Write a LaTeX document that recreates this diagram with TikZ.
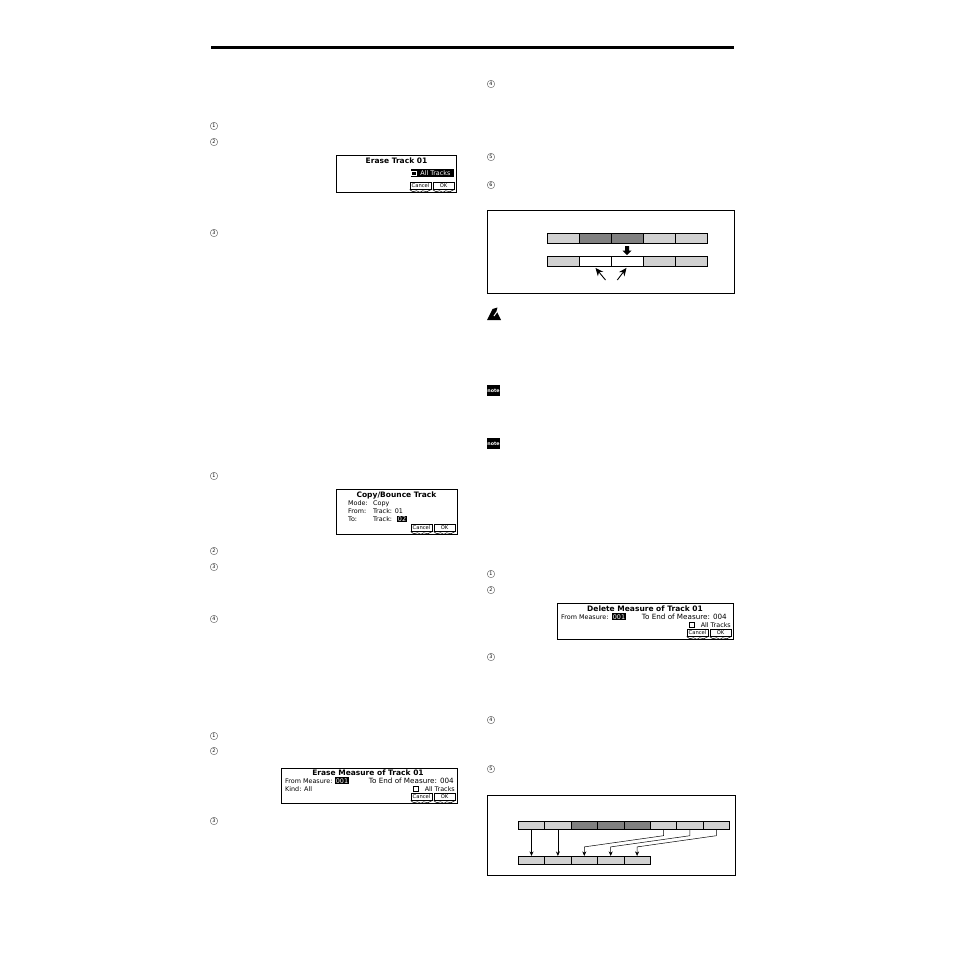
\documentclass[tikz,border=0pt]{standalone}
\usepackage{fontspec}
\setmainfont{DejaVu Sans}
\usetikzlibrary{calc,arrows.meta}

\newcommand{\softkeys}[1]{
	\foreach \kx/\kw/\klabel/\kname in {-36/21/Cancel/cancel,-13/21/OK/ok} {
		\node[softkey, minimum width=\kw pt] (#1\kname) at ($(#1.south east)+(\kx,-6.5)$) {\klabel};
		\draw[line width=0.5pt] (#1\kname.south west) -- ++(3,2.2) -- ++(4,-1) -- ++(3,1.6) -- ++(3,-1.6) -- ++(4,1) -- (#1\kname.south east);
	}
}

\begin{document}
\begin{tikzpicture}[x=1pt,y=-1pt,
	lcdscreen/.style={draw, line width=1pt, inner sep=0pt, fill=white},
	softkey/.style={draw, line width=0.6pt, inner sep=0pt, minimum height=6.5pt, font=\fontsize{5.2}{6}\selectfont},
	lcdtitle/.style={inner sep=0pt, font=\fontsize{7.5}{9}\selectfont\bfseries},
	lcdtext/.style={inner sep=0pt, font=\fontsize{6.4}{8}\selectfont},
	lcdwide/.style={inner sep=0pt, font=\fontsize{7.2}{8}\selectfont},
	lcdinv/.style={inner sep=0.8pt, fill=black, text=white, anchor=base, font=\fontsize{6.4}{8}\selectfont},
	stepnum/.style={circle, draw=black!70, line width=0.35pt, inner sep=0pt, minimum size=7.5pt, font=\fontsize{4.8}{5}\selectfont},
	notebox/.style={fill=black, text=white, inner sep=0pt, minimum width=13pt, minimum height=11pt, font=\fontsize{4.8}{5}\selectfont\bfseries},
	track/.style={draw, line width=0.8pt, inner sep=0pt},
	plain/.style={track, fill=black!18},
	dark/.style={track, fill=black!50},
	empty/.style={track, fill=white},
	framebox/.style={draw, line width=0.8pt, inner sep=0pt},
]
	\useasboundingbox (0,0) rectangle (954,954);
	\fill[white] (0,0) rectangle (954,954);
	% rule on top
	\node[inner sep=0pt, minimum width=523pt, minimum height=2.4pt, fill=black] (toprule) at (472.5,47.5) {};

	% step numbers
	\foreach \y/\lab [count=\i] in {126/1,142/2,233/3,476/1,551/2,567/3,619/4,736/1,751/2,821/3}
		\node[stepnum] (left\i) at (214,\y) {\lab};
	\foreach \y/\lab [count=\i] in {84/4,157/5,185/6,574/1,590/2,657/3,720/4,769/5}
		\node[stepnum] (right\i) at (491,\y) {\lab};

	% warning and notes
	\fill (487,320) -- (492.5,309) -- (497.5,307.5) -- (496.5,311) -- (501,320) -- cycle;
	\draw[white, line width=1pt] (494,316) -- (498.5,309.5);
	\node[notebox] (note1) at (493.5,390.5) {note};
	\node[notebox] (note2) at (493.5,443.5) {note};

	% erase track
	\node[lcdscreen, minimum width=120pt, minimum height=37pt] (erasetrack) at (396,173.5) {};
	\node[lcdtitle] (erasetitle) at (396.5,161) {Erase Track 01};
	\node[lcdinv, anchor=center, minimum width=43pt, minimum height=7.4pt] (alltracks) at (432.4,173) {\hspace*{6pt}All Tracks};
	\node[draw=white, fill=black, line width=0.4pt, inner sep=0pt, minimum size=4.5pt] (allbox) at (413.5,173) {};
	\softkeys{erasetrack}

	% copy bounce
	\node[lcdscreen, minimum width=121pt, minimum height=45pt] (copybounce) at (396.5,511.5) {};
	\node[lcdtitle] (copytitle) at (396.5,495) {Copy/Bounce Track};
	\node[lcdtext, anchor=base west] (copymode) at (348,505) {Mode:};
	\node[lcdtext, anchor=base west] (copyval) at (373,505) {Copy};
	\node[lcdtext, anchor=base west] (copyfrom) at (348,513) {From:};
	\node[lcdtext, anchor=base west] (copyfval) at (373,513) {Track: 01};
	\node[lcdtext, anchor=base west] (copyto) at (348,521.5) {To:};
	\node[lcdtext, anchor=base west] (copytval) at (373,521.5) {Track:};
	\node[lcdinv] (copysel) at (402,521.5) {02};
	\softkeys{copybounce}

	% erase measure
	\node[lcdscreen, minimum width=176pt, minimum height=35pt] (erasemeasure) at (369,785.5) {};
	\node[lcdtitle] (emtitle) at (368,773) {Erase Measure of Track 01};
	\node[lcdtext, anchor=base west] (emfrom) at (285,783) {From Measure:};
	\node[lcdinv] (emsel) at (342,783) {001};
	\node[lcdwide, anchor=base east] (emend) at (454,783) {To End of Measure: 004};
	\node[lcdtext, anchor=base west] (emkind) at (285,791) {Kind: All};
	\node[lcdtext, anchor=base east] (emall) at (455,791) {All Tracks};
	\node[draw, line width=0.6pt, inner sep=0pt, minimum size=5pt] (embox) at (416,788.5) {};
	\softkeys{erasemeasure}

	% delete measure
	\node[lcdscreen, minimum width=176pt, minimum height=36pt] (deletemeasure) at (645,621) {};
	\node[lcdtitle] (dmtitle) at (645,608.5) {Delete Measure of Track 01};
	\node[lcdtext, anchor=base west] (dmfrom) at (561,619) {From Measure:};
	\node[lcdinv] (dmsel) at (619,619) {001};
	\node[lcdwide, anchor=base east] (dmend) at (727,619) {To End of Measure: 004};
	\node[lcdtext, anchor=base east] (dmall) at (731,627.5) {All Tracks};
	\node[draw, line width=0.6pt, inner sep=0pt, minimum size=5pt] (dmbox) at (692,625) {};
	\softkeys{deletemeasure}

	% first track figure
	\node[framebox, minimum width=247pt, minimum height=83pt] (figone) at (610.8,251.5) {};
	\foreach \i/\kind in {1/plain,2/dark,3/dark,4/plain,5/plain}
		\node[\kind, minimum width=32pt, minimum height=10.5pt] (a\i) at (531.5+32*\i,238.2) {};
	\foreach \i/\kind in {1/plain,2/empty,3/empty,4/plain,5/plain}
		\node[\kind, minimum width=32pt, minimum height=10pt] (b\i) at (531.5+32*\i,261.5) {};
	\fill (625,246) -- (629,246) -- (629,250.5) -- (631.5,250.5) -- (627,255) -- (622.5,250.5) -- (625,250.5) -- cycle;
	\coordinate (pa) at (605.5,280);
	\coordinate (pb) at (617.3,280);
	\draw[-{Stealth[length=8pt,width=7pt]}, line width=0.9pt] (pa) -- ($(b2.south)+(0,1)$);
	\draw[-{Stealth[length=8pt,width=7pt]}, line width=0.9pt] (pb) -- ($(b3.south)+(-1,1)$);

	% second track figure
	\node[framebox, minimum width=248pt, minimum height=80.5pt] (figtwo) at (610.9,835.5) {};
	\foreach \i/\kind in {1/plain,2/plain,3/dark,4/dark,5/dark,6/plain,7/plain,8/plain}
		\node[\kind, minimum width=26.4pt, minimum height=8pt] (c\i) at (505.1+26.4*\i,825.3) {};
	\foreach \i in {1,...,5}
		\node[plain, minimum width=26.4pt, minimum height=8pt] (d\i) at (505.1+26.4*\i,860.3) {};
	\foreach \i in {1,2}
		\draw[-{Stealth[length=4.5pt,width=4pt]}, line width=0.8pt] (c\i.south) -- (d\i.north);
	\foreach \i/\j in {6/3,7/4,8/5}
		\draw[-{Stealth[length=4.5pt,width=4pt]}, line width=0.5pt] (c\i.south) -- ++(0,6) -- ($(d\j.north)+(0,-9)$) -- (d\j.north);
\end{tikzpicture}
\end{document}
